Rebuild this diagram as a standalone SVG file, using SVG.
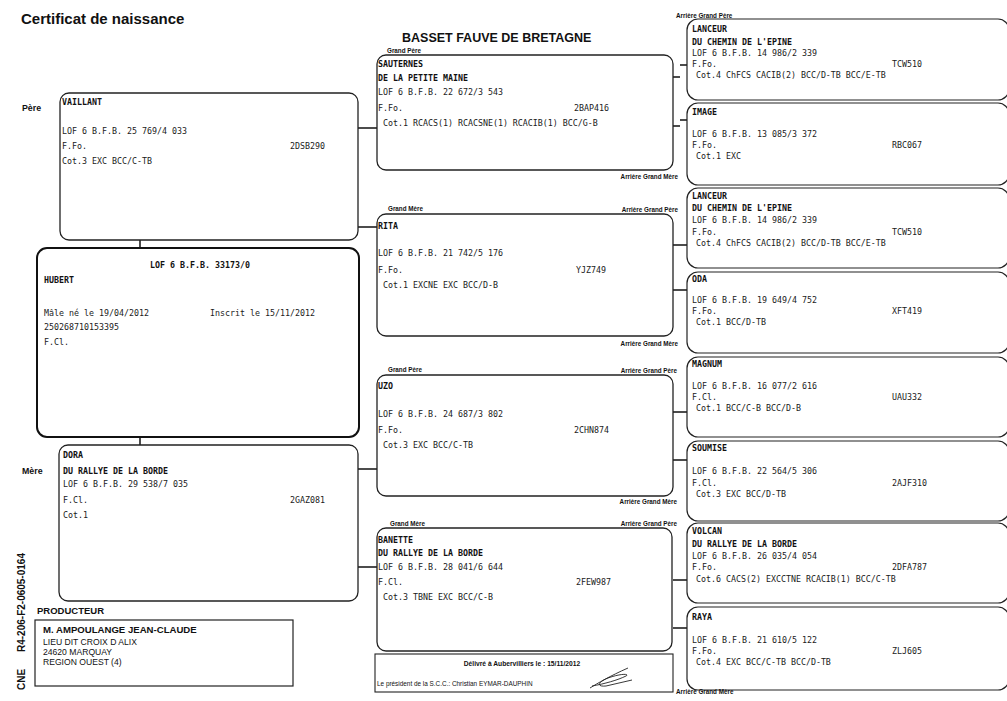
<svg xmlns="http://www.w3.org/2000/svg" width="1007" height="701" viewBox="0 0 1007 701">
<style>
.bg{fill:#fff}
.box{fill:#fff;stroke:#222;stroke-width:1.3}
.hb{fill:#fff;stroke:#111;stroke-width:2}
.rbox{fill:#fff;stroke:#222;stroke-width:1.2}
.m{font-family:"DejaVu Sans Mono","Liberation Mono",monospace;font-size:8.3px;fill:#1a1a1a}
.mb{font-family:"DejaVu Sans Mono","Liberation Mono",monospace;font-size:8.3px;font-weight:bold;fill:#111}
.lbl{font-family:"Liberation Sans",Arial,sans-serif;font-size:6.3px;font-weight:bold;fill:#111}
.lr{text-anchor:end}
.sans{font-family:"Liberation Sans",Arial,sans-serif;fill:#111}
.conn{stroke:#111;stroke-width:1.5;fill:none}
</style>
<rect class="bg" x="0" y="0" width="1007" height="701"/>

<g id="headings">
<text class="sans" x="21" y="23.5" font-size="15" font-weight="bold">Certificat de naissance</text>
<text class="sans" x="402" y="41.5" font-size="12.5" font-weight="bold">BASSET FAUVE DE BRETAGNE</text>
<text class="sans" x="22" y="111" font-size="8.8" font-weight="bold">Père</text>
<text class="sans" x="22" y="474" font-size="8.8" font-weight="bold">Mère</text>
<g transform="translate(25,690) rotate(-90)">
<text class="sans" x="0" y="0" font-size="10" font-weight="bold">CNE</text>
<text class="sans" x="38" y="0" font-size="10" font-weight="bold">R4-206-F2-0605-0164</text>
</g>
</g>

<g id="connectors">
<line class="conn" x1="140" y1="240" x2="140" y2="248"/>
<line class="conn" x1="140" y1="437" x2="140" y2="445"/>
<line class="conn" x1="358" y1="128" x2="377" y2="128"/>
<line class="conn" x1="358" y1="227" x2="377" y2="227"/>
<line class="conn" x1="358" y1="469" x2="377" y2="469"/>
<line class="conn" x1="358" y1="567" x2="377" y2="567"/>
<line class="conn" x1="673" y1="77" x2="680" y2="77"/>
<line class="conn" x1="673" y1="126" x2="680" y2="126"/>
<line class="conn" x1="680" y1="65" x2="687" y2="65"/>
<line class="conn" x1="680" y1="120" x2="687" y2="120"/>
<line class="conn" x1="673" y1="245" x2="687" y2="245"/>
<line class="conn" x1="673" y1="290" x2="687" y2="290"/>
<line class="conn" x1="673" y1="412" x2="687" y2="412"/>
<line class="conn" x1="673" y1="460" x2="687" y2="460"/>
<line class="conn" x1="673" y1="580" x2="687" y2="580"/>
<line class="conn" x1="673" y1="628" x2="687" y2="628"/>
</g>

<g id="pere">
<rect class="box" x="60" y="93" width="298" height="147" rx="9"/>
<text class="mb" x="62" y="105">VAILLANT</text>
<text class="m" x="62" y="134">LOF 6 B.F.B. 25 769/4 033</text>
<text class="m" x="62" y="149">F.Fo.</text>
<text class="m" x="290" y="149">2DSB290</text>
<text class="m" x="62" y="164">Cot.3 EXC BCC/C-TB</text>
</g>

<g id="hubert">
<rect class="hb" x="37" y="248" width="322" height="189" rx="10"/>
<text class="mb" x="200" y="268" text-anchor="middle">LOF 6 B.F.B. 33173/0</text>
<text class="mb" x="44" y="283">HUBERT</text>
<text class="m" x="44" y="316">Mâle né le 19/04/2012</text>
<text class="m" x="210" y="316">Inscrit le 15/11/2012</text>
<text class="m" x="44" y="330">250268710153395</text>
<text class="m" x="44" y="345">F.Cl.</text>
</g>

<g id="mere">
<rect class="box" x="59" y="445" width="299" height="156" rx="9"/>
<text class="mb" x="63" y="458">DORA</text>
<text class="mb" x="63" y="474">DU RALLYE DE LA BORDE</text>
<text class="m" x="63" y="487">LOF 6 B.F.B. 29 538/7 035</text>
<text class="m" x="63" y="503">F.Cl.</text>
<text class="m" x="290" y="503">2GAZ081</text>
<text class="m" x="63" y="518">Cot.1</text>
</g>

<g id="producteur">
<text class="sans" x="37" y="614" font-size="9.5" font-weight="bold">PRODUCTEUR</text>
<rect x="35" y="620" width="258" height="66" fill="#fff" stroke="#222" stroke-width="1.2"/>
<text class="sans" x="43" y="632.5" font-size="9.6" font-weight="bold">M. AMPOULANGE JEAN-CLAUDE</text>
<text class="sans" x="43" y="645" font-size="8.6">LIEU DIT CROIX D ALIX</text>
<text class="sans" x="43" y="654.5" font-size="8.6">24620 MARQUAY</text>
<text class="sans" x="43" y="664.5" font-size="8.6">REGION OUEST (4)</text>
</g>

<g id="sauternes">
<text class="lbl" x="387" y="53">Grand Père</text>
<rect class="box" x="377" y="55" width="296" height="115" rx="9"/>
<text class="mb" x="378" y="67">SAUTERNES</text>
<text class="mb" x="378" y="81">DE LA PETITE MAINE</text>
<text class="m" x="378" y="95">LOF 6 B.F.B. 22 672/3 543</text>
<text class="m" x="378" y="111">F.Fo.</text>
<text class="m" x="574" y="111">2BAP416</text>
<text class="m" x="383" y="126">Cot.1 RCACS(1) RCACSNE(1) RCACIB(1) BCC/G-B</text>
<text class="lbl lr" x="678" y="179">Arrière Grand Mère</text>
</g>

<g id="rita">
<text class="lbl" x="388" y="211">Grand Mère</text>
<text class="lbl lr" x="678" y="212">Arrière Grand Père</text>
<rect class="box" x="377" y="214" width="296" height="122" rx="9"/>
<text class="mb" x="378" y="229">RITA</text>
<text class="m" x="378" y="256">LOF 6 B.F.B. 21 742/5 176</text>
<text class="m" x="378" y="273">F.Fo.</text>
<text class="m" x="576" y="273">YJZ749</text>
<text class="m" x="383" y="288">Cot.1 EXCNE EXC BCC/D-B</text>
<text class="lbl lr" x="678" y="346">Arrière Grand Mère</text>
</g>

<g id="uzo">
<text class="lbl" x="388" y="372">Grand Père</text>
<text class="lbl lr" x="677" y="373">Arrière Grand Père</text>
<rect class="box" x="377" y="375" width="296" height="121" rx="9"/>
<text class="mb" x="378" y="389">UZO</text>
<text class="m" x="378" y="417">LOF 6 B.F.B. 24 687/3 802</text>
<text class="m" x="378" y="433">F.Fo.</text>
<text class="m" x="574" y="433">2CHN874</text>
<text class="m" x="383" y="448">Cot.3 EXC BCC/C-TB</text>
<text class="lbl lr" x="677" y="504">Arrière Grand Mère</text>
</g>

<g id="banette">
<text class="lbl" x="390" y="526">Grand Mère</text>
<text class="lbl lr" x="677" y="526">Arrière Grand Père</text>
<rect class="box" x="377" y="528" width="295" height="123" rx="9"/>
<text class="mb" x="378" y="543">BANETTE</text>
<text class="mb" x="378" y="556">DU RALLYE DE LA BORDE</text>
<text class="m" x="378" y="570">LOF 6 B.F.B. 28 041/6 644</text>
<text class="m" x="378" y="585">F.Cl.</text>
<text class="m" x="576" y="585">2FEW987</text>
<text class="m" x="383" y="600">Cot.3 TBNE EXC BCC/C-B</text>
</g>

<g id="delivre">
<rect x="375" y="654" width="298" height="38" fill="#fff" stroke="#222" stroke-width="1.1"/>
<text class="sans" x="522" y="666" font-size="6.7" font-weight="bold" text-anchor="middle">Délivré à Aubervilliers le : 15/11/2012</text>
<text class="sans" x="377" y="686" font-size="6.4">Le président de la S.C.C.: Christian EYMAR-DAUPHIN</text>
<path d="M590,688 C598,683 610,676 628,668 M592,686 C604,684 618,680 626,676 C630,674 622,673 608,678 C598,682 596,687 606,686 L632,680" fill="none" stroke="#222" stroke-width="0.9"/>
</g>

<g id="lanceur1">
<text class="lbl" x="676" y="18">Arrière Grand Père</text>
<rect class="rbox" x="687" y="19" width="322" height="81" rx="11"/>
<text class="mb" x="692" y="32">LANCEUR</text>
<text class="mb" x="692" y="44.5">DU CHEMIN DE L'EPINE</text>
<text class="m" x="692" y="56">LOF 6 B.F.B. 14 986/2 339</text>
<text class="m" x="692" y="67">F.Fo.</text>
<text class="m" x="892" y="67">TCW510</text>
<text class="m" x="696" y="78">Cot.4 ChFCS CACIB(2) BCC/D-TB BCC/E-TB</text>
</g>

<g id="image">
<rect class="rbox" x="687" y="103" width="322" height="82" rx="11"/>
<text class="mb" x="692" y="115">IMAGE</text>
<text class="m" x="692" y="137">LOF 6 B.F.B. 13 085/3 372</text>
<text class="m" x="692" y="148">F.Fo.</text>
<text class="m" x="892" y="148">RBC067</text>
<text class="m" x="696" y="159">Cot.1 EXC</text>
</g>

<g id="lanceur2">
<rect class="rbox" x="687" y="188" width="322" height="80" rx="11"/>
<text class="mb" x="692" y="199">LANCEUR</text>
<text class="mb" x="692" y="211">DU CHEMIN DE L'EPINE</text>
<text class="m" x="692" y="223">LOF 6 B.F.B. 14 986/2 339</text>
<text class="m" x="692" y="235">F.Fo.</text>
<text class="m" x="892" y="235">TCW510</text>
<text class="m" x="696" y="246">Cot.4 ChFCS CACIB(2) BCC/D-TB BCC/E-TB</text>
</g>

<g id="oda">
<rect class="rbox" x="687" y="272" width="322" height="81" rx="11"/>
<text class="mb" x="692" y="282">ODA</text>
<text class="m" x="692" y="303">LOF 6 B.F.B. 19 649/4 752</text>
<text class="m" x="692" y="314">F.Fo.</text>
<text class="m" x="892" y="314">XFT419</text>
<text class="m" x="696" y="325">Cot.1 BCC/D-TB</text>
</g>

<g id="magnum">
<rect class="rbox" x="687" y="357" width="322" height="80" rx="11"/>
<text class="mb" x="692" y="367">MAGNUM</text>
<text class="m" x="692" y="389">LOF 6 B.F.B. 16 077/2 616</text>
<text class="m" x="692" y="400">F.Cl.</text>
<text class="m" x="892" y="400">UAU332</text>
<text class="m" x="696" y="411">Cot.1 BCC/C-B BCC/D-B</text>
</g>

<g id="soumise">
<rect class="rbox" x="687" y="441" width="322" height="80" rx="11"/>
<text class="mb" x="692" y="451">SOUMISE</text>
<text class="m" x="692" y="474">LOF 6 B.F.B. 22 564/5 306</text>
<text class="m" x="692" y="486">F.Cl.</text>
<text class="m" x="892" y="486">2AJF310</text>
<text class="m" x="696" y="497">Cot.3 EXC BCC/D-TB</text>
</g>

<g id="volcan">
<rect class="rbox" x="687" y="523" width="322" height="80" rx="11"/>
<text class="mb" x="692" y="534">VOLCAN</text>
<text class="mb" x="692" y="547">DU RALLYE DE LA BORDE</text>
<text class="m" x="692" y="559">LOF 6 B.F.B. 26 035/4 054</text>
<text class="m" x="692" y="570">F.Fo.</text>
<text class="m" x="892" y="570">2DFA787</text>
<text class="m" x="696" y="582">Cot.6 CACS(2) EXCCTNE RCACIB(1) BCC/C-TB</text>
</g>

<g id="raya">
<rect class="rbox" x="687" y="607" width="322" height="83" rx="11"/>
<text class="mb" x="692" y="620">RAYA</text>
<text class="m" x="692" y="643">LOF 6 B.F.B. 21 610/5 122</text>
<text class="m" x="692" y="654">F.Fo.</text>
<text class="m" x="892" y="654">ZLJ605</text>
<text class="m" x="696" y="665">Cot.4 EXC BCC/C-TB BCC/D-TB</text>
<text class="lbl" x="676" y="694">Arrière Grand Mère</text>
</g>
</svg>
